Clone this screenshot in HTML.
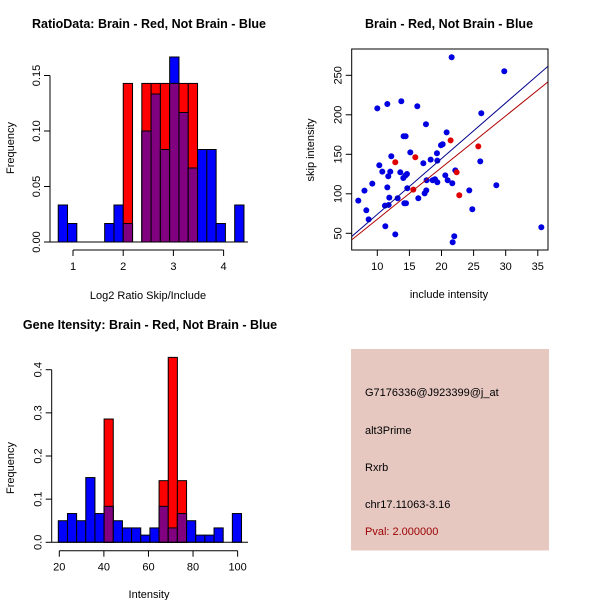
<!DOCTYPE html>
<html><head><meta charset="utf-8"><style>
body{margin:0;background:#fff}
svg{display:block;font-family:"Liberation Sans",sans-serif}
</style></head><body>
<svg id="s" width="600" height="600" viewBox="0 0 600 600"></svg>
<script>
// Top-left histogram (log2 ratio) - counts per bin
const ratioBinStart = 0.706, ratioBinWidth = 0.185;
const ratioBlueCounts = [2,1,0,0,0,1,2,1,0,6,8,5,10,7,4,5,5,1,0,2];
const ratioBlueTotal = 60;
const ratioRedCounts = [0,0,0,0,0,0,0,1,0,1,1,1,1,1,1,0,0,0,0,0];
const ratioRedTotal = 7;
const ratioXTicks = [1,2,3,4];
const ratioYTicks = ["0.00","0.05","0.10","0.15"];

// Bottom-left histogram (intensity)
const intBinStart = 19.55, intBinWidth = 4.11;
const intBlueCounts = [3,4,3,9,4,5,3,2,2,1,2,5,2,4,3,1,1,2,0,4];
const intBlueTotal = 60;
const intRedCounts = [0,0,0,0,0,2,0,0,0,0,0,1,3,1,0,0,0,0,0,0];
const intRedTotal = 7;
const intXTicks = [20,40,60,80,100];
const intYTicks = ["0.0","0.1","0.2","0.3","0.4"];

// Scatter
const blueX = [7.04,8.0,8.29,8.65,9.22,10.0,10.31,10.78,11.19,11.25,11.56,11.56,11.71,11.77,11.87,12.02,12.18,12.80,13.17,13.58,13.74,14.05,14.10,14.21,14.36,14.41,14.47,14.62,14.67,15.14,16.23,16.39,17.17,17.37,17.58,17.63,17.68,18.31,18.62,18.98,19.29,19.35,19.35,19.92,20.18,20.59,20.80,20.96,21.58,21.68,21.74,21.99,22.15,24.33,24.80,26.20,26.04,28.54,29.78,35.55];
const blueY = [91.4,104.0,79.1,67.7,112.9,208.2,136.1,128.1,85.0,58.9,213.7,108.2,122.2,85.9,95.1,128.1,147.5,48.7,94.3,127.2,217.1,120.0,172.8,88.0,123.0,172.8,88.0,125.1,107.0,152.5,210.8,94.3,138.6,100.6,188.0,104.4,117.1,143.2,117.1,118.4,151.3,142.0,114.6,161.4,162.7,123.4,177.8,117.1,272.8,113.3,38.6,46.2,129.7,104.4,80.4,201.9,141.1,110.8,255.1,57.6];
const redX = [12.80,15.61,15.92,21.42,22.36,22.77,25.73];
const redY = [139.9,105.3,146.2,167.7,127.2,98.1,160.1];
const blueFit = [3.5, 7.05]; // intercept, slope
const redFit = [2.4, 6.54];
const scXTicks = [10,15,20,25,30,35];
const scYTicks = [50,100,150,200,250];

const NS="http://www.w3.org/2000/svg", svg=document.getElementById('s');
function el(t,a,txt){const e=document.createElementNS(NS,t);for(const k in a)e.setAttribute(k,a[k]);if(txt!==undefined)e.textContent=txt;svg.appendChild(e);return e;}

function hist(o){
  const X=v=>o.x0+(v-o.xv0)*o.xs, Y=v=>o.y0-v*o.ys;
  for(let i=0;i<o.blue.length;i++){
    const a=o.start+i*o.w, b=a+o.w, hb=o.blue[i]/o.bt, hr=o.red[i]/o.rt;
    if(hb>0){const r=el('rect',{x:X(a),y:Y(hb),width:X(b)-X(a),height:Y(0)-Y(hb),fill:'#0000ff',stroke:'#000','stroke-width':1});
      
      }
    if(hr>0){const r=el('rect',{x:X(a),y:Y(hr),width:X(b)-X(a),height:Y(0)-Y(hr),fill:'#ff0000',stroke:'#000','stroke-width':1});
      
      }
    const m=Math.min(hb,hr);
    if(m>0){const r=el('rect',{x:X(a),y:Y(m),width:X(b)-X(a),height:Y(0)-Y(m),fill:'#800080',stroke:'#000','stroke-width':1});
      
      }
  }
  el('line',{x1:o.yax,y1:Y(0),x2:o.baseEnd,y2:Y(0),stroke:'#000'});
  const yt=o.yticks;
  el('line',{x1:o.yax,y1:Y(parseFloat(yt[0])),x2:o.yax,y2:Y(parseFloat(yt[yt.length-1])),stroke:'#000'});
  yt.forEach(t=>{const v=parseFloat(t),y=Y(v);
    el('line',{x1:o.yax-6,y1:y,x2:o.yax,y2:y,stroke:'#000'});
    const tx=el('text',{x:o.yax-10,y:y,'font-size':11,'text-anchor':'middle',transform:`rotate(-90 ${o.yax-10} ${y})`},t);
    
    
  });
  const xt=o.xticks;
  el('line',{x1:X(xt[0]),y1:o.xax,x2:X(xt[xt.length-1]),y2:o.xax,stroke:'#000'});
  xt.forEach(v=>{const x=X(v);
    el('line',{x1:x,y1:o.xax,x2:x,y2:o.xax+6,stroke:'#000'});
    const tx=el('text',{x:x,y:o.xax+20,'font-size':11,'text-anchor':'middle'},String(v));
    
    
  });
}
hist({id:'ratio',blue:ratioBlueCounts,bt:ratioBlueTotal,red:ratioRedCounts,rt:ratioRedTotal,start:ratioBinStart,w:ratioBinWidth,
  x0:73,xv0:1,xs:50.2,y0:242,ys:1110,yax:50,baseEnd:248,xax:250,xticks:ratioXTicks,yticks:ratioYTicks});
hist({id:'intensity',blue:intBlueCounts,bt:intBlueTotal,red:intRedCounts,rt:intRedTotal,start:intBinStart,w:intBinWidth,
  x0:59.3,xv0:20,xs:2.229,y0:542.3,ys:431.5,yax:51.7,baseEnd:248,xax:550.7,xticks:intXTicks,yticks:intYTicks});

(function(){
  const L=351.7,T=49,R=548,B=250;
  const X=v=>377.3+(v-10)*6.42, Y=v=>233.3-(v-50)*0.79;
  el('defs',{}).innerHTML='<clipPath id="cp"><rect x="351.7" y="49" width="196.3" height="201"/></clipPath>';
  blueX.forEach((x,i)=>{const c=el('circle',{cx:X(x),cy:Y(blueY[i]),r:3,fill:'#0000e0'});
    
    });
  redX.forEach((x,i)=>{const c=el('circle',{cx:X(x),cy:Y(redY[i]),r:3,fill:'#e00000'});
    
    });
  const xa=5, xb=38;
  const bl=el('line',{x1:X(xa),y1:Y(blueFit[0]+blueFit[1]*xa),x2:X(xb),y2:Y(blueFit[0]+blueFit[1]*xb),stroke:'#00008b','clip-path':'url(#cp)'});
  
  
  const rl=el('line',{x1:X(xa),y1:Y(redFit[0]+redFit[1]*xa),x2:X(xb),y2:Y(redFit[0]+redFit[1]*xb),stroke:'#b00000','clip-path':'url(#cp)'});
  
  
  el('rect',{x:L,y:T,width:R-L,height:B-T,fill:'none',stroke:'#000'});
  scXTicks.forEach(v=>{const x=X(v);el('line',{x1:x,y1:B,x2:x,y2:B+6,stroke:'#000'});
    const t=el('text',{x:x,y:B+20,'font-size':11,'text-anchor':'middle'},String(v));
    
    });
  scYTicks.forEach(v=>{const y=Y(v);el('line',{x1:L-6,y1:y,x2:L,y2:y,stroke:'#000'});
    const t=el('text',{x:L-10,y:y,'font-size':11,'text-anchor':'middle',transform:`rotate(-90 ${L-10} ${y})`},String(v));
    
    });
})();
</script>
<script>
(function(){
const svg=document.getElementById('s');
svg.insertAdjacentHTML('beforeend',`
<text x="149" y="28" font-size="12.5" font-weight="bold" text-anchor="middle">RatioData: Brain - Red, Not Brain - Blue</text>
<text x="148" y="299" font-size="11" text-anchor="middle">Log2 Ratio Skip/Include</text>
<text x="14" y="148" font-size="11" text-anchor="middle" transform="rotate(-90 14 148)">Frequency</text>
<text x="449" y="28" font-size="12.5" font-weight="bold" text-anchor="middle">Brain - Red, Not Brain - Blue</text>
<text x="449" y="298" font-size="11" text-anchor="middle">include intensity</text>
<text x="314" y="150" font-size="11" text-anchor="middle" transform="rotate(-90 314 150)">skip intensity</text>
<text x="150" y="329" font-size="12.5" font-weight="bold" text-anchor="middle">Gene Itensity: Brain - Red, Not Brain - Blue</text>
<text x="149" y="598" font-size="11" text-anchor="middle">Intensity</text>
<text x="14" y="468" font-size="11" text-anchor="middle" transform="rotate(-90 14 468)">Frequency</text>
<rect x="351" y="349" width="198" height="201.5" fill="#e6c8c1"/>
<text x="365" y="396" font-size="11">G7176336@J923399@j_at</text>
<text x="365" y="434" font-size="11">alt3Prime</text>
<text x="365" y="471" font-size="11">Rxrb</text>
<text x="365" y="508" font-size="11">chr17.11063-3.16</text>
<text x="365" y="535" font-size="11" fill="#9b0000">Pval: 2.000000</text>`);
})();
</script>
</body></html>
